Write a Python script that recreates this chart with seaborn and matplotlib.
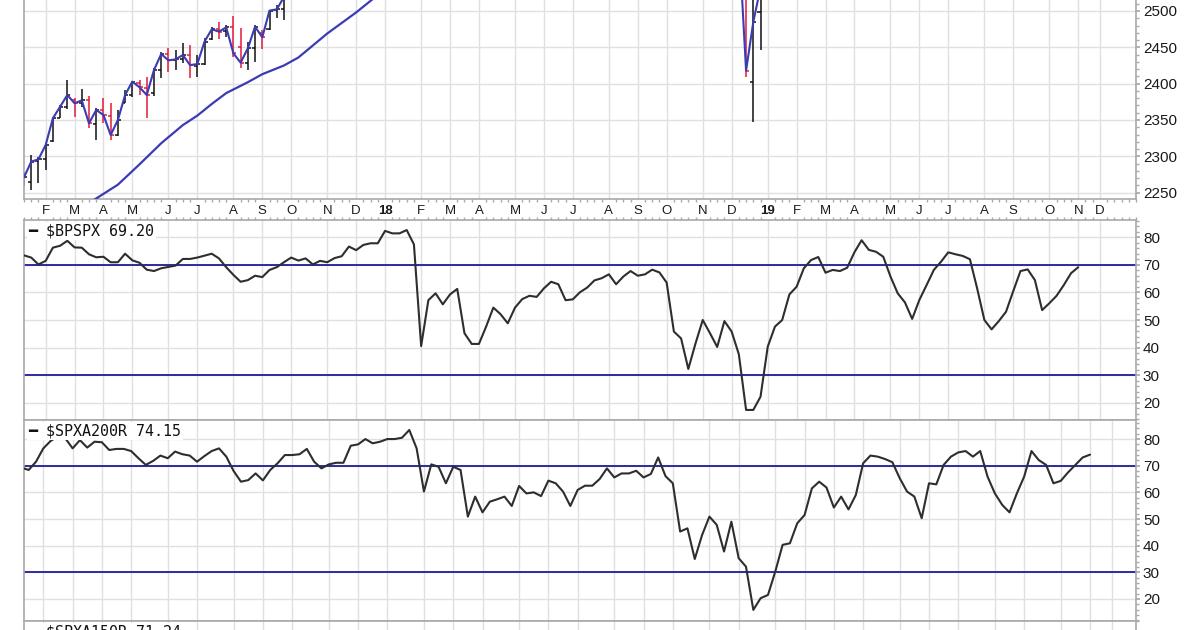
"""StockCharts-style weekly breadth chart: $SPX price bars over $BPSPX and
$SPXA200R, Jan 2017 - Nov 2019. Saves out.png (1200x630)."""
import pandas as pd
import matplotlib
matplotlib.use("Agg")
import matplotlib.pyplot as plt
import matplotlib.dates as mdates
from matplotlib.ticker import MultipleLocator
import seaborn as sns

# --- data: weekly points, each week dated by its Monday -------------------
FIRST_WEEK = "2017-01-16"

bpspx = [
    73.5, 72.7, 70.2, 71.5, 76.3, 77.0, 78.8, 76.4, 76.3, 73.9, 72.8, 73.0, 71.0,
    71.0, 74.1, 71.7, 70.8, 68.3, 67.8, 68.8, 69.3, 69.8, 72.2, 72.2, 72.7, 73.4,
    74.1, 72.4, 69.2, 66.4, 63.9, 64.5, 66.1, 65.6, 68.2, 69.2, 71.0, 72.7, 71.6,
    72.4, 70.2, 71.5, 71.0, 72.5, 73.2, 76.7, 75.4, 77.3, 77.9, 77.9, 82.4, 81.5,
    81.5, 82.7, 77.5, 40.5, 57.2, 59.7, 55.7, 59.3, 61.3, 45.2, 41.3, 41.3, 47.6,
    54.5, 52.1, 48.8, 54.5, 57.6, 58.8, 58.4, 61.5, 63.9, 63.0, 57.2, 57.5, 60.1,
    61.8, 64.4, 65.2, 66.6, 63.0, 65.8, 67.8, 66.1, 66.6, 68.3, 67.3, 63.6, 45.8,
    43.3, 32.2, 41.5, 50.0, 45.2, 40.2, 49.6, 45.8, 37.5, 17.3, 17.3, 22.1, 40.3,
    47.6, 50.0, 59.3, 62.1, 68.8, 71.8, 72.9, 67.2, 68.2, 67.8, 69.0, 74.6, 79.0,
    75.5, 74.8, 73.0, 65.8, 59.7, 56.4, 50.4, 57.3, 62.7, 68.2, 71.2, 74.6, 73.9,
    73.3, 72.1, 61.5, 50.0, 46.6, 49.6, 53.0, 60.5, 67.8, 68.4, 64.5, 53.6, 56.1,
    58.8, 62.7, 67.0, 69.2,
]

spxa200r = [
    69.3, 68.4, 71.5, 76.5, 79.3, 81.0, 80.3, 76.5, 79.6, 76.8, 79.0, 78.8, 75.9,
    76.3, 76.3, 75.5, 72.8, 70.3, 71.8, 73.8, 72.8, 75.3, 74.3, 73.8, 71.5, 73.6,
    75.5, 76.5, 73.4, 68.0, 64.0, 64.6, 67.1, 64.5, 68.4, 70.9, 74.0, 74.0, 74.3,
    76.3, 71.5, 69.0, 70.5, 71.1, 71.1, 77.5, 78.0, 80.0, 78.4, 79.0, 80.0, 80.0,
    80.5, 83.4, 76.5, 60.3, 70.5, 69.6, 63.4, 69.6, 68.4, 50.9, 58.4, 52.5, 56.5,
    57.4, 58.4, 54.9, 62.4, 59.6, 60.0, 58.6, 64.4, 63.4, 60.3, 54.9, 60.9, 62.5,
    62.5, 65.0, 69.0, 65.6, 67.1, 67.1, 68.1, 65.6, 66.9, 73.1, 66.1, 63.4, 45.3,
    46.5, 35.0, 44.0, 50.9, 47.8, 37.8, 49.0, 35.3, 32.1, 15.9, 20.3, 21.5, 30.3,
    40.3, 40.9, 48.4, 51.5, 61.5, 64.0, 61.8, 54.3, 58.4, 53.6, 59.0, 70.9, 73.8,
    73.4, 72.5, 71.3, 65.3, 60.3, 58.4, 50.3, 63.4, 63.0, 70.3, 73.4, 75.0, 75.5,
    73.4, 75.5, 65.9, 59.6, 55.3, 52.5, 59.6, 65.9, 75.5, 72.1, 70.3, 63.4, 64.3,
    67.5, 70.3, 73.1, 74.15,
]

# $SPX weekly bars, only the stretches that reach into the visible price window
spx17_week = "2017-01-16"
spx17_open = [2268, 2265, 2294, 2297, 2321, 2353, 2368, 2377, 2374, 2378, 2345, 2364,
              2356, 2330, 2374, 2385, 2401, 2394, 2387, 2419, 2441, 2433, 2434, 2440,
              2424, 2427, 2461, 2475, 2472, 2478, 2450, 2429, 2449, 2470, 2475, 2501, 2503]
spx17_high = [2278, 2301.8, 2299.5, 2317.9, 2354.6, 2370.6, 2405, 2379.8, 2392.2, 2383,
              2366, 2379.8, 2372.9, 2363.8, 2391.3, 2404, 2405, 2408.7, 2421.1, 2444,
              2448.6, 2446.3, 2455.5, 2453.2, 2439.4, 2462.4, 2478.4, 2485.3, 2480.7,
              2493, 2476.1, 2457.8, 2480.7, 2474, 2501.4, 2508.3, 2520]
spx17_low = [2259, 2253.7, 2263.8, 2281.2, 2320.2, 2352.3, 2365, 2354.6, 2368.3, 2338.5,
             2322.5, 2345.4, 2322, 2328, 2372.9, 2382.1, 2384.4, 2352.3, 2383, 2407.3,
             2416.5, 2418.8, 2428, 2407.3, 2409.6, 2425.7, 2460.1, 2461, 2464.7, 2437,
             2421.1, 2418.8, 2430.3, 2447.2, 2474, 2489.9, 2488]
spx17_close = [2271, 2292.7, 2295.9, 2315.6, 2352.3, 2368.3, 2384.4, 2373, 2377, 2345.4,
               2363.8, 2356.9, 2329.4, 2350, 2384.4, 2402.8, 2395, 2384.4, 2418.8, 2440.8,
               2432, 2433.5, 2439.4, 2425.5, 2427, 2457.8, 2474.8, 2471.6, 2477.5, 2441.7,
               2428.9, 2448.6, 2478.4, 2463.8, 2500.5, 2502.3, 2519]

spx18_week = "2018-12-10"
spx18_open = [2625, 2590, 2402, 2499]
spx18_high = [2640, 2601, 2520, 2538]
spx18_low = [2585, 2409.6, 2347.7, 2446]
spx18_close = [2599, 2418, 2485, 2532]

# 40-week moving average of $SPX (visible part)
ma_week = ["2017-03-20", "2017-03-27", "2017-04-17", "2017-05-08", "2017-05-29",
           "2017-06-19", "2017-07-03", "2017-07-17", "2017-07-31", "2017-08-21",
           "2017-09-04", "2017-09-25", "2017-10-09", "2017-11-06", "2017-12-04",
           "2017-12-25"]
ma_value = [2236, 2242, 2261, 2289, 2318, 2343, 2356, 2372, 2387, 2402, 2413, 2425,
            2436, 2469, 2498, 2522]

SPXA150R_LAST = "71.24"

# --- style ------------------------------------------------------------------
sns.set_theme(style="white")
plt.rcParams["font.family"] = ["Liberation Sans", "DejaVu Sans"]

BLACK = "#111111"
RED = "#e31a3a"
BLUE = "#3b3bb3"
NAVY = "#1c1c96"
LINE = "#2e2e2e"
GRID = "#e0e0e0"
FRAME = "#a9a9a9"
TEXT = "#1a1a1a"

W, H = 1200, 630


def px_box(x0, y0, x1, y1):
    return [x0 / W, 1 - y1 / H, (x1 - x0) / W, (y1 - y0) / H]


weeks = pd.date_range(FIRST_WEEK, periods=len(bpspx), freq="7D")
xw = mdates.date2num(weeks)
ref = pd.Timestamp("2017-02-06")
x_lo = mdates.date2num(ref + pd.Timedelta(weeks=-2.64))
x_hi = mdates.date2num(ref + pd.Timedelta(weeks=149.28))
# month lines sit on the first weekly bar of each month
months = list(pd.date_range("2017-02-01", "2019-11-30", freq="WOM-1MON"))
months.append(pd.Timestamp("2019-11-25"))  # the future "D" is drawn a week early
month_x = mdates.date2num(months)
month_lbl = [f"{d.year % 100:02d}" if d.month == 1 else "JFMAMJJASOND"[d.month - 1]
             for d in months]
month_lbl[-1] = "D"
minor_x = mdates.date2num(pd.date_range(FIRST_WEEK, "2019-12-30", freq="7D"))


def style_panel(ax, ylim, yticks, minor):
    ax.set_xlim(x_lo, x_hi)
    ax.set_ylim(*ylim)
    ax.set_xticks(month_x)
    ax.set_xticklabels([])
    ax.set_yticks(yticks)
    ax.yaxis.set_minor_locator(MultipleLocator(minor))
    ax.yaxis.tick_right()
    ax.grid(True, which="major", color=GRID, linewidth=1)
    ax.set_axisbelow(True)
    ax.tick_params(axis="x", which="major", length=0)
    ax.tick_params(axis="y", which="both", direction="out", color=FRAME,
                   labelcolor=TEXT, labelsize=11, pad=2)
    ax.tick_params(axis="y", which="major", length=3)
    ax.tick_params(axis="y", which="minor", length=2)
    for s in ax.spines.values():
        s.set_visible(True)
        s.set_color(FRAME)
        s.set_linewidth(1.2)
    ax.set_xlabel("")
    ax.set_ylabel("")


def panel_label(ax, text):
    ax.annotate(text, xy=(0, 1), xycoords="axes fraction", xytext=(3, -2.5),
                textcoords="offset points", ha="left", va="top", fontsize=10.8,
                family=["DejaVu Sans Mono"], color=BLACK, zorder=5,
                bbox=dict(boxstyle="square,pad=0.1", fc="white", ec="none"))


def draw_bars(ax, start, o, h, l, c):
    x = mdates.date2num(pd.date_range(start, periods=len(c), freq="7D"))
    cols = [RED if i > 0 and c[i] < c[i - 1] else BLACK for i in range(len(c))]
    d = 3.0
    ax.vlines(x, l, h, colors=cols, linewidth=1.1, zorder=2)
    ax.hlines(o, x - d, x, colors=cols, linewidth=1.1, zorder=2)
    ax.hlines(c, x, x + d, colors=cols, linewidth=1.1, zorder=2)
    sns.lineplot(x=x, y=c, ax=ax, color=BLUE, linewidth=1.5, zorder=3)


fig = plt.figure(figsize=(12, 6.3), dpi=100)
ax1 = fig.add_axes(px_box(24, 0, 1136, 199))
ax2 = fig.add_axes(px_box(24, 220, 1136, 420))
ax3 = fig.add_axes(px_box(24, 420, 1136, 621))
ax4 = fig.add_axes(px_box(24, 621, 1136, 821))

# price panel
draw_bars(ax1, spx17_week, spx17_open, spx17_high, spx17_low, spx17_close)
draw_bars(ax1, spx18_week, spx18_open, spx18_high, spx18_low, spx18_close)
sns.lineplot(x=mdates.date2num(pd.to_datetime(ma_week)), y=ma_value, ax=ax1,
             color=BLUE, linewidth=1.6, zorder=3)
style_panel(ax1, (2241.3, 2515.1), [2250, 2300, 2350, 2400, 2450, 2500], 10)
ax1.spines["top"].set_visible(False)
ax1.set_xticklabels(month_lbl, fontsize=9.5, color=TEXT)
for lbl, d in zip(ax1.get_xticklabels(), months):
    if d.month == 1:
        lbl.set_fontweight("bold")
ax1.tick_params(axis="x", which="major", pad=4)
ax1.set_xticks(minor_x, minor=True)
ax1.tick_params(axis="x", which="minor", bottom=True, length=2, color=FRAME)

# breadth panels
for ax, vals, ylim in [(ax2, bpspx, (13.64, 86.36)), (ax3, spxa200r, (11.73, 87.15))]:
    for lvl in (70, 30):
        ax.axhline(lvl, color=NAVY, linewidth=1.3, zorder=2)
    sns.lineplot(x=xw, y=vals, ax=ax, color=LINE, linewidth=1.5, zorder=3)
    style_panel(ax, ylim, [20, 30, 40, 50, 60, 70, 80], 2)

ax2.set_xticks(minor_x, minor=True)
ax2.tick_params(axis="x", which="minor", top=True, bottom=False, length=2, color=FRAME)

style_panel(ax4, (0, 100), [], 10)

panel_label(ax2, f"━ \\$BPSPX {bpspx[-1]:.2f}")
panel_label(ax3, f"━ \\$SPXA200R {spxa200r[-1]:.2f}")
panel_label(ax4, f"━ \\$SPXA150R {SPXA150R_LAST}")

fig.savefig("out.png", dpi=100)
